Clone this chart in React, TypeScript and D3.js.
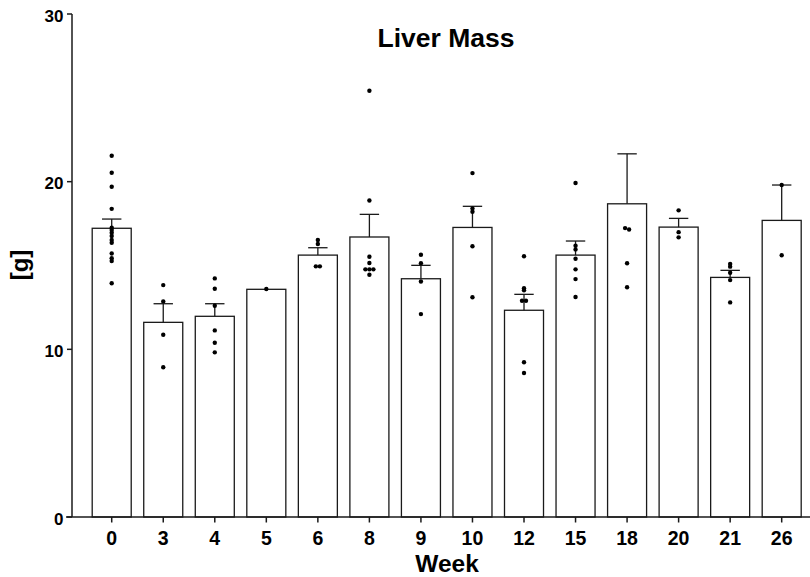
import React from "react";
import * as d3 from "d3";

const weeks = ["0", "3", "4", "5", "6", "8", "9", "10", "12", "15", "18", "20", "21", "26"];
const means = [17.22, 11.61, 11.97, 13.58, 15.62, 16.7, 14.21, 17.27, 12.33, 15.62, 18.68, 17.29, 14.29, 17.69];
const sems = [0.55, 1.11, 0.75, 0, 0.44, 1.35, 0.8, 1.26, 0.95, 0.84, 2.98, 0.52, 0.42, 2.11];
const points: number[][] = [
  [21.55, 20.53, 19.7, 18.38, 17.25, 17.11, 16.95, 16.76, 16.52, 16.36, 15.72, 15.43, 15.27, 13.94],
  [13.83, 12.86, 10.87, 8.93],
  [14.23, 13.61, 12.6, 11.13, 10.39, 9.82],
  [13.6],
  [16.52, 16.28, 14.95, 14.95],
  [25.42, 18.88, 15.52, 15.15, 14.77, 14.77, 14.77, 14.45],
  [15.64, 15.13, 14.05, 12.1],
  [20.51, 18.4, 18.21, 16.15, 13.11],
  [15.55, 13.64, 13.52, 12.9, 12.9, 9.23, 8.59],
  [19.92, 16.18, 15.96, 15.4, 14.77, 14.19, 13.12],
  [17.23, 17.15, 15.13, 13.7],
  [18.29, 16.99, 16.68],
  [15.09, 14.93, 14.57, 14.13, 12.8],
  [19.8, 15.61],
];
const yTicks = [0, 10, 20, 30];
const title = "Liver Mass";
const xTitle = "Week";
const yTitle = "[g]";

const W = 810;
const H = 577;
const FONT = "'Liberation Sans', Arial, Helvetica, sans-serif";

export default function App() {
  const y = d3.scaleLinear().domain([0, 30]).range([517, 14]);
  const x = d3
    .scaleBand<string>()
    .domain(weeks)
    .range([72, 821.4])
    .paddingInner(0.243)
    .paddingOuter(0.392);
  const bw = x.bandwidth();
  const stroke = "#1a1a1a";

  const dots: { cx: number; cy: number; key: string }[] = [];
  points.forEach((vals, gi) => {
    const cx0 = (x(weeks[gi]) as number) + bw / 2;
    const sorted = vals.map((v) => y(v)).sort((a, b) => a - b);
    const clusters: number[][] = [];
    sorted.forEach((py) => {
      const last = clusters[clusters.length - 1];
      if (last && Math.abs(last[0] - py) < 1.5) last.push(py);
      else clusters.push([py]);
    });
    clusters.forEach((c, ci) => {
      c.forEach((py, k) => {
        const off = (k - (c.length - 1) / 2) * 4;
        dots.push({ cx: cx0 + off, cy: py, key: `${gi}-${ci}-${k}` });
      });
    });
  });

  return (
    <svg
      width={W}
      height={H}
      style={{ position: "absolute", left: 0, top: 0, background: "#fff" }}
      fontFamily={FONT}
    >
      {/* bars */}
      {weeks.map((w, i) => {
        const x0 = x(w) as number;
        return (
          <rect
            key={"b" + w}
            x={x0}
            y={y(means[i])}
            width={bw}
            height={y(0) - y(means[i])}
            fill="#fff"
            stroke={stroke}
            strokeWidth={1.3}
          />
        );
      })}
      {/* error bars */}
      {weeks.map((w, i) => {
        if (!sems[i]) return null;
        const cx = (x(w) as number) + bw / 2;
        const top = y(means[i] + sems[i]);
        return (
          <g key={"e" + w} stroke={stroke} strokeWidth={1.3}>
            <line x1={cx} x2={cx} y1={y(means[i])} y2={top} />
            <line x1={cx - 9.7} x2={cx + 9.7} y1={top} y2={top} />
          </g>
        );
      })}
      {/* dots */}
      {dots.map((d) => (
        <circle key={d.key} cx={d.cx} cy={d.cy} r={2.2} fill="#000" />
      ))}
      {/* y axis */}
      <line x1={72} x2={72} y1={y(30)} y2={y(0)} stroke={stroke} strokeWidth={1.5} />
      {yTicks.map((t) => (
        <g key={"yt" + t}>
          <line x1={67} x2={72} y1={y(t)} y2={y(t)} stroke={stroke} strokeWidth={1.5} />
          <text
            x={63.5}
            y={y(t) + 7.5}
            textAnchor="end"
            fontSize={17}
            fontWeight="bold"
            fill="#000"
          >
            {t}
          </text>
        </g>
      ))}
      {/* x axis */}
      <line x1={66} x2={W} y1={y(0)} y2={y(0)} stroke={stroke} strokeWidth={1.5} />
      {weeks.map((w) => {
        const cx = (x(w) as number) + bw / 2;
        return (
          <g key={"xt" + w}>
            <line x1={cx} x2={cx} y1={y(0)} y2={y(0) + 5.5} stroke={stroke} strokeWidth={1.5} />
            <text x={cx} y={545} textAnchor="middle" fontSize={19.5} fontWeight="bold" fill="#000">
              {w}
            </text>
          </g>
        );
      })}
      {/* titles */}
      <text x={446} y={47} textAnchor="middle" fontSize={26.5} fontWeight="bold" fill="#000">
        {title}
      </text>
      <text x={447} y={571.5} textAnchor="middle" fontSize={24.5} fontWeight="bold" fill="#000">
        {xTitle}
      </text>
      <text
        transform={`translate(28,${265}) rotate(-90)`}
        textAnchor="middle"
        fontSize={24}
        fontWeight="bold"
        fill="#000"
      >
        {yTitle}
      </text>
    </svg>
  );
}
